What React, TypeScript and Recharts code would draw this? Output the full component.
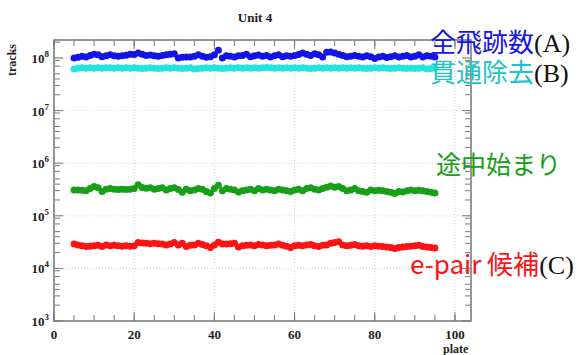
import React from "react";
import { ScatterChart, Scatter, XAxis, YAxis, CartesianGrid, ReferenceArea } from "recharts";

// plate number (x)
const plates = [
  5, 6, 7, 8, 9, 10, 11, 12, 13, 14,
  15, 16, 17, 18, 19, 20, 21, 22, 23, 24,
  25, 26, 27, 28, 29, 30, 31, 32, 33, 34,
  35, 36, 37, 38, 39, 40, 41, 42, 43, 44,
  45, 46, 47, 48, 49, 50, 51, 52, 53, 54,
  55, 56, 57, 58, 59, 60, 61, 62, 63, 64,
  65, 66, 67, 68, 69, 70, 71, 72, 73, 74,
  75, 76, 77, 78, 79, 80, 81, 82, 83, 84,
  85, 86, 87, 88, 89, 90, 91, 92, 93, 94,
  95,
];

// 全飛跡数(A), x1e6
const allTracks = [
  100, 103, 108, 104, 112, 118, 115, 106, 110, 115,
  111, 108, 110, 113, 118, 116, 125, 118, 112, 114,
  110, 108, 112, 115, 118, 120, 100, 103, 105, 104,
  108, 115, 108, 103, 106, 115, 140, 100, 110, 108,
  105, 110, 112, 118, 106, 110, 114, 108, 112, 104,
  110, 115, 106, 110, 108, 112, 116, 125, 118, 112,
  120, 115, 105, 128, 130, 125, 118, 112, 106, 108,
  112, 108, 104, 110, 106, 98, 104, 108, 102, 106,
  110, 104, 108, 112, 105, 108, 115, 104, 110, 108,
  105,
];

// 貫通除去(B), x1e6
const penetrationRemoved = [
  62, 64, 65, 64, 65, 64, 65, 64, 65, 65,
  64, 65, 64, 65, 64, 65, 64, 63, 64, 65,
  64, 63, 64, 65, 64, 65, 64, 63, 64, 65,
  62, 63, 64, 65, 64, 65, 64, 63, 64, 65,
  64, 65, 64, 65, 64, 65, 64, 65, 66, 65,
  64, 65, 64, 65, 64, 65, 64, 65, 64, 63,
  64, 65, 64, 65, 64, 65, 64, 65, 64, 65,
  64, 65, 64, 63, 64, 65, 64, 65, 64, 63,
  64, 65, 64, 63, 64, 63, 64, 65, 62, 63,
  64,
];

// 途中始まり, x1e3
const midStart = [
  310, 310, 305, 300, 330, 360, 340, 290, 320, 330,
  320, 315, 320, 315, 320, 330, 390, 345, 335, 340,
  320, 330, 340, 310, 330, 340, 315, 280, 320, 300,
  310, 330, 320, 290, 270, 330, 380, 300, 330, 320,
  310, 285, 300, 310, 320, 300, 330, 310, 320, 310,
  300, 320, 310, 300, 290, 310, 320, 300, 330, 340,
  320, 310, 330, 350, 370, 350, 360, 330, 300, 310,
  330, 300, 290, 280, 310, 300, 305, 300, 290, 280,
  265, 290, 285, 300, 310, 300, 305, 300, 290, 280,
  270,
];

// e-pair 候補(C), x1e3
const epairCandidates = [
  29, 28, 27, 26, 26.5, 27, 27.5, 26, 28, 27,
  27.5, 27, 26.5, 27, 26.5, 27, 31, 30.5, 30, 29.5,
  30, 29.5, 29, 28, 29, 31, 28, 30, 26, 27.5,
  28, 30, 28.5, 27, 25, 28, 31.5, 29, 29, 29.5,
  30, 25.5, 27, 27.5, 28, 27, 28.5, 28, 27, 27.5,
  28, 29, 27.5, 26.5, 25, 27, 27.5, 27, 28, 28.5,
  27, 26, 27.5, 28, 30, 31, 32, 28, 27, 27.5,
  28.5, 27, 26.5, 27, 26, 27, 26.5, 26, 25.5, 25,
  24, 25, 25.5, 26, 26.5, 27, 27.5, 26, 25.5, 25,
  24.5,
];

const xTicks = [0, 20, 40, 60, 80, 100];
const xMinorTicks = [0, 5, 10, 15, 20, 25, 30, 35, 40, 45, 50, 55, 60, 65, 70, 75, 80, 85, 90, 95, 100];
const yTicks = [1e3, 1e4, 1e5, 1e6, 1e7, 1e8];
const yMinorTicks = yTicks.flatMap((d) => [2, 3, 4, 5, 6, 7, 8, 9].map((m) => m * d)).filter((v) => v < 2.2e8);

const X_DOMAIN: [number, number] = [0, 104];
const Y_DOMAIN: [number, number] = [1e3, 2.2e8];

const toPoints = (vals: number[], unit: number) =>
  plates.map((p, i) => ({ plate: p, tracks: vals[i] * unit }));

const series = [
  { name: "全飛跡数(A)", data: toPoints(allTracks, 1e6), color: "#1414e6" },
  { name: "貫通除去(B)", data: toPoints(penetrationRemoved, 1e6), color: "#22e4e4" },
  { name: "途中始まり", data: toPoints(midStart, 1e3), color: "#15a015" },
  { name: "e-pair 候補(C)", data: toPoints(epairCandidates, 1e3), color: "#ff1212" },
];

// axis pairs that only carry the inner ROOT-style tick marks
const tickAxes = [
  { x: "xb", y: "yl" },
  { x: "xbm", y: "ylm" },
  { x: "xt", y: "yr" },
  { x: "xtm", y: "yrm" },
];

const frame = "#777";
const serif = "'Liberation Serif', 'DejaVu Serif', serif";
const cjk = "'Noto Sans CJK JP', 'Noto Sans', sans-serif";

const YTick = (props: any) => {
  const { x, y, payload } = props;
  const exp = Math.round(Math.log10(payload.value));
  return (
    <text x={x} y={y + 5} textAnchor="end" fontFamily={serif} fontWeight="bold" fontSize={13} fill="#222">
      <tspan>10</tspan>
      <tspan dy={-6} fontSize={9}>{exp}</tspan>
    </text>
  );
};

const blank = () => "";

const tag = (font: string, color: string) => ({
  fontFamily: font,
  color,
  display: "inline-block",
  height: 28,
  lineHeight: "28px",
  overflow: "visible",
});

export default function App() {
  return (
    <div style={{ position: "absolute", left: 0, top: 0, width: 578, height: 355, background: "#fff" }}>
      <ScatterChart width={578} height={355} margin={{ top: 40, right: 107, bottom: 14, left: 34 }}>
        <CartesianGrid xAxisId="x" yAxisId="y" stroke="#d0d0d0" strokeDasharray="1 2" />
        {/* label axes */}
        <XAxis xAxisId="x" dataKey="plate" type="number" domain={X_DOMAIN} ticks={xTicks} allowDataOverflow
          height={20} tickLine={false} axisLine={false} tickSize={0} tickMargin={9}
          tick={{ fontFamily: serif, fontWeight: "bold", fontSize: 13, fill: "#222" }} />
        <YAxis yAxisId="y" dataKey="tracks" type="number" scale="log" domain={Y_DOMAIN} ticks={yTicks} allowDataOverflow
          width={20} tickLine={false} axisLine={false} tickSize={0} tickMargin={5} tick={<YTick />} />
        {/* inner tick marks */}
        <XAxis xAxisId="xb" dataKey="plate" type="number" domain={X_DOMAIN} ticks={xTicks} mirror height={1} tickSize={9}
          tickFormatter={blank} stroke={frame} axisLine={false} />
        <XAxis xAxisId="xbm" dataKey="plate" type="number" domain={X_DOMAIN} ticks={xMinorTicks} mirror height={1} tickSize={5}
          tickFormatter={blank} stroke={frame} axisLine={false} />
        <XAxis xAxisId="xt" dataKey="plate" orientation="top" type="number" domain={X_DOMAIN} ticks={xTicks} mirror height={1} tickSize={9}
          tickFormatter={blank} stroke={frame} axisLine={false} />
        <XAxis xAxisId="xtm" dataKey="plate" orientation="top" type="number" domain={X_DOMAIN} ticks={xMinorTicks} mirror height={1} tickSize={5}
          tickFormatter={blank} stroke={frame} axisLine={false} />
        <YAxis yAxisId="yl" dataKey="tracks" type="number" scale="log" domain={Y_DOMAIN} ticks={yTicks} mirror width={1} tickSize={9}
          tickFormatter={blank} stroke={frame} axisLine={false} />
        <YAxis yAxisId="ylm" dataKey="tracks" type="number" scale="log" domain={Y_DOMAIN} ticks={yMinorTicks} mirror width={1} tickSize={5}
          tickFormatter={blank} stroke={frame} axisLine={false} />
        <YAxis yAxisId="yr" dataKey="tracks" orientation="right" type="number" scale="log" domain={Y_DOMAIN} ticks={yTicks} mirror width={1} tickSize={9}
          tickFormatter={blank} stroke={frame} axisLine={false} />
        <YAxis yAxisId="yrm" dataKey="tracks" orientation="right" type="number" scale="log" domain={Y_DOMAIN} ticks={yMinorTicks} mirror width={1} tickSize={5}
          tickFormatter={blank} stroke={frame} axisLine={false} />
        {tickAxes.map((a) => (
          <Scatter key={a.x} data={series[0].data.slice(0, 1)} xAxisId={a.x} yAxisId={a.y} isAnimationActive={false}
            shape={() => <g />} />
        ))}
        <ReferenceArea xAxisId="x" yAxisId="y" x1={X_DOMAIN[0]} x2={X_DOMAIN[1]} y1={Y_DOMAIN[0]} y2={Y_DOMAIN[1]}
          fill="none" fillOpacity={0} stroke={frame} strokeWidth={1.5} ifOverflow="visible" />
        {series.map((s) => (
          <Scatter key={s.name} name={s.name} data={s.data} xAxisId="x" yAxisId="y" isAnimationActive={false}
            shape={(p: any) => <circle cx={p.cx} cy={p.cy} r={3.5} fill={s.color} />} />
        ))}
      </ScatterChart>

      <div style={{ position: "absolute", left: 0, width: 510, top: 10, textAlign: "center", fontFamily: serif, fontWeight: "bold", fontSize: 13, color: "#222" }}>
        Unit 4
      </div>
      <div style={{ position: "absolute", left: 6, top: 76, lineHeight: 1, transform: "rotate(-90deg)", transformOrigin: "left top", fontFamily: serif, fontWeight: "bold", fontSize: 12, color: "#222" }}>
        tracks
      </div>
      <div style={{ position: "absolute", left: 443, top: 343, lineHeight: 1, fontFamily: serif, fontWeight: "bold", fontSize: 12, color: "#222" }}>
        plate
      </div>

      <div style={{ position: "absolute", left: 430, top: 27, fontSize: 26, whiteSpace: "nowrap" }}>
        <span style={tag(cjk, "#1414e6")}>全飛跡数</span>
        <span style={tag(serif, "#111")}>(A)</span>
      </div>
      <div style={{ position: "absolute", left: 430, top: 57, fontSize: 26, whiteSpace: "nowrap" }}>
        <span style={tag(cjk, "#1cc4c4")}>貫通除去</span>
        <span style={tag(serif, "#111")}>(B)</span>
      </div>
      <div style={{ position: "absolute", left: 436, top: 149, fontSize: 25, whiteSpace: "nowrap" }}>
        <span style={tag(cjk, "#15a015")}>途中始まり</span>
      </div>
      <div style={{ position: "absolute", left: 410, top: 249, fontSize: 26, whiteSpace: "nowrap" }}>
        <span style={tag(cjk, "#ff1212")}>e-pair 候補</span>
        <span style={tag(serif, "#111")}>(C)</span>
      </div>
    </div>
  );
}
